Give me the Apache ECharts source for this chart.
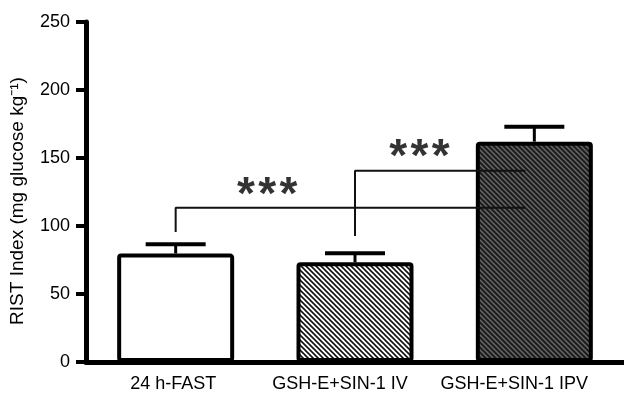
<!DOCTYPE html>
<html><head><meta charset="utf-8">
<script src="https://cdn.jsdelivr.net/npm/echarts@6/dist/echarts.min.js"></script>
<style>html,body{margin:0;padding:0;background:#fff}#c{width:624px;height:393px}</style>
</head><body><div id="c"></div>
<script>
const categories = ['24 h-FAST', 'GSH-E+SIN-1 IV', 'GSH-E+SIN-1 IPV'];
const means = [79.8, 73.3, 162];
const upper = [86.5, 80, 173];
const yTicks = [0, 50, 100, 150, 200, 250];
const yTitle = 'RIST Index (mg glucose kg\u207B\u00B9)';
const bracket1 = [[0, 95.6], [0, 113.5], [1.95, 113.5]];
const bracket2 = [[1.0, 92.6], [1.0, 140.7], [1.95, 140.7]];
const stars = [[0.51, 121.5, '***'], [1.36, 149.5, '***']];

const FONT = 'Liberation Sans, Arial, Helvetica, sans-serif';
const labelShift = [5, 30, 40]; // right padding that nudges each category label left, as in the source

function hatch(bg, fg, s, lw) {
  const c = document.createElement('canvas');
  c.width = s; c.height = s;
  const g = c.getContext('2d');
  g.fillStyle = bg; g.fillRect(0, 0, s, s);
  g.strokeStyle = fg; g.lineWidth = lw;
  for (let k = -1; k <= 1; k++) {
    g.beginPath(); g.moveTo(-1, k * s - 1); g.lineTo(s + 1, s + k * s + 1); g.stroke();
  }
  return { image: c, repeat: 'repeat' };
}

const fills = ['#ffffff', hatch('#ffffff', '#111111', 5, 1.6), hatch('#1c1c1c', '#6a6a6a', 5, 1.4)];

const rich = {};
labelShift.forEach((p, i) => {
  rich['l' + i] = { color: '#000', fontSize: 18, fontFamily: FONT, padding: [0, p, 0, 0] };
});

const chart = echarts.init(document.getElementById('c'), null, { renderer: 'canvas' });
chart.setOption({
  animation: false,
  backgroundColor: '#ffffff',
  grid: { left: 86, top: 22, width: 540, bottom: 31, containLabel: false },
  xAxis: [{
    type: 'category', data: categories,
    axisLine: { lineStyle: { color: '#000', width: 5 } },
    axisTick: { show: false },
    axisLabel: {
      color: '#000', fontSize: 18, fontFamily: FONT, margin: 13, interval: 0,
      formatter: (v, i) => '{l' + i + '|' + v + '}', rich: rich
    },
    z: 5
  }, {
    type: 'value', min: -0.5, max: 2.5, show: false
  }],
  yAxis: {
    type: 'value', min: yTicks[0], max: yTicks[yTicks.length - 1], interval: 50,
    splitLine: { show: false },
    axisLine: { show: true, onZero: false, lineStyle: { color: '#000', width: 5 } },
    axisTick: { show: true, length: 10, lineStyle: { color: '#000', width: 4 } },
    axisLabel: { color: '#000', fontSize: 18, fontFamily: FONT, margin: 16 },
    z: 5
  },
  graphic: [{
    type: 'text', x: 18, y: 201, rotation: Math.PI / 2,
    style: { text: yTitle, fill: '#000', font: '19px ' + FONT, textAlign: 'center', textVerticalAlign: 'middle' }
  }],
  series: [{
    type: 'bar', barWidth: 117,
    data: means.map((v, i) => ({ value: v, itemStyle: { color: fills[i] } })),
    itemStyle: { borderColor: '#000', borderWidth: 4, borderRadius: 2 },
    z: 2
  }, {
    type: 'custom',
    data: means.map((v, i) => [i, v, upper[i]]),
    renderItem: function (params, api) {
      const b = api.coord([api.value(0), api.value(1)]);
      const t = api.coord([api.value(0), api.value(2)]);
      return {
        type: 'group', children: [
          { type: 'line', shape: { x1: b[0], y1: b[1], x2: t[0], y2: t[1] }, style: { stroke: '#000', lineWidth: 3 } },
          { type: 'line', shape: { x1: t[0] - 30, y1: t[1], x2: t[0] + 30, y2: t[1] }, style: { stroke: '#000', lineWidth: 4 } }
        ]
      };
    },
    z: 1
  }, {
    type: 'line', xAxisIndex: 1, data: bracket1, symbol: 'none',
    lineStyle: { color: '#111', width: 2 }, z: 4
  }, {
    type: 'line', xAxisIndex: 1, data: bracket2, symbol: 'none',
    lineStyle: { color: '#111', width: 2 }, z: 4
  }, {
    type: 'scatter', xAxisIndex: 1, symbolSize: 0,
    data: stars.map(s => [s[0], s[1], s[2]]),
    label: {
      show: true, position: 'inside',
      formatter: p => p.data[2].split('').map(ch => '{s|' + ch + '}').join('{g| }'),
      rich: {
        s: { color: '#000', fontSize: 46, fontWeight: 'bold', fontFamily: FONT },
        g: { fontSize: 12, fontFamily: FONT }
      }
    },
    z: 6
  }]
});
</script></body></html>
